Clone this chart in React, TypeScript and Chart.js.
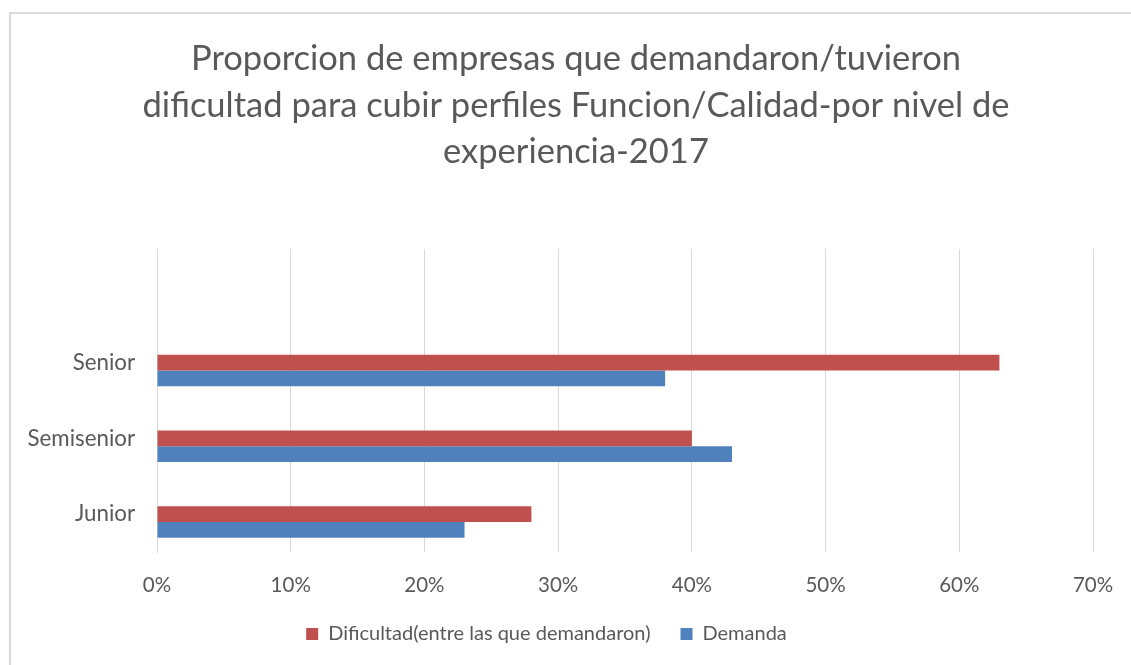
import React, { useEffect, useRef } from "react";
import { Chart, registerables } from "chart.js";

Chart.register(...registerables);

const titleLines = [
  "Proporcion de empresas que demandaron/tuvieron",
  "dificultad para cubir perfiles Funcion/Calidad-por nivel de",
  "experiencia-2017",
];
const categories = ["", "Senior", "Semisenior", "Junior"];
const dificultad = [null, 63, 40, 28];
const demanda = [null, 38, 43, 23];
const spacer = [null, null, null, null];
const xTicksMax = 70;
const xTickStep = 10;

const TEXT = "#595959";
const FONT = "Lato";

const titlePlugin = {
  id: "frameTitle",
  afterDraw(chart: any) {
    const ctx = chart.ctx;
    ctx.save();
    ctx.font = `normal 34.5px ${FONT}`;
    ctx.fillStyle = TEXT;
    ctx.textAlign = "center";
    ctx.textBaseline = "middle";
    const cx = 576;
    const y0 = 59;
    const lh = 46.5;
    titleLines.forEach((t, i) => ctx.fillText(t, cx, y0 + i * lh));
    ctx.restore();
  },
};

export default function App() {
  const ref = useRef<HTMLCanvasElement | null>(null);
  useEffect(() => {
    document.body.style.margin = "0";
    document.body.style.overflow = "hidden";
    const chart = new Chart(ref.current as HTMLCanvasElement, {
      type: "bar",
      data: {
        labels: categories,
        datasets: [
          { label: "", data: spacer, backgroundColor: "rgba(0,0,0,0)" },
          { label: "Dificultad(entre las que demandaron)", data: dificultad, backgroundColor: "#C0504D", borderWidth: 0 },
          { label: "Demanda", data: demanda, backgroundColor: "#4F81BD", borderWidth: 0 },
        ],
      },
      plugins: [titlePlugin],
      options: {
        indexAxis: "y",
        animation: false,
        responsive: false,
        maintainAspectRatio: false,
        categoryPercentage: 0.622,
        barPercentage: 1,
        layout: { padding: { left: 0, right: 38, top: 249, bottom: 11 } },
        plugins: {
          title: { display: false },
          legend: {
            position: "bottom",
            labels: {
              color: TEXT,
              font: { family: FONT, size: 20 },
              boxWidth: 12,
              boxHeight: 12,
              padding: 30,
              filter: (item: any) => item.text !== "",
            },
          },
          tooltip: { enabled: false },
        },
        scales: {
          x: {
            min: 0,
            max: xTicksMax,
            ticks: {
              stepSize: xTickStep,
              color: TEXT,
              font: { family: FONT, size: 20.5 },
              padding: 21,
              callback: (v: any) => v + "%",
            },
            grid: { color: "#d9d9d9", lineWidth: 1, drawTicks: false },
            border: { display: false },
            afterFit: (s: any) => { s.height = 42; s.paddingLeft = 0; s.paddingRight = 0; },
          },
          y: {
            ticks: { color: TEXT, font: { family: FONT, size: 22.3 }, padding: 22 },
            grid: { display: false, drawTicks: false },
            border: { display: true, color: "#d9d9d9" },
            afterFit: (s: any) => { s.width = 157; s.paddingTop = 0; s.paddingBottom = 0; },
          },
        },
      },
    });
    return () => chart.destroy();
  }, []);
  return (
    <div style={{ position: "relative", width: 1131, height: 665, overflow: "hidden", background: "#fff" }}>
      <div style={{ position: "absolute", left: 9, top: 12, width: 1200, height: 700, border: "2px solid #d9d9d9", boxSizing: "border-box" }} />
      <canvas ref={ref} width={1131} height={665} style={{ position: "absolute", left: 0, top: 0 }} />
    </div>
  );
}
